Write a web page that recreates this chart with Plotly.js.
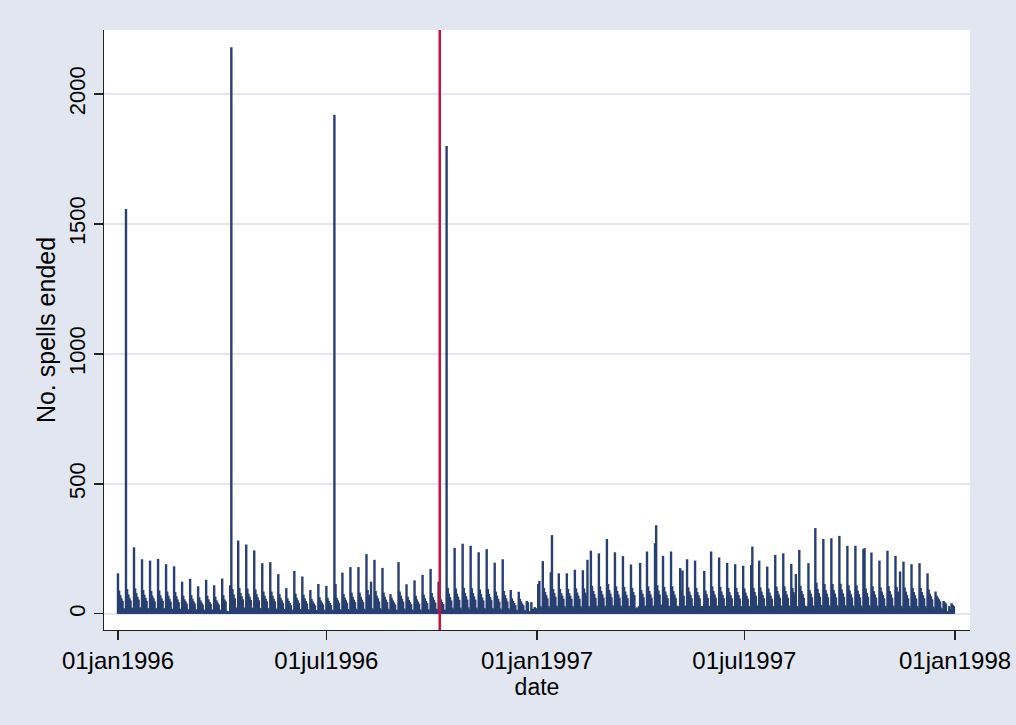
<!DOCTYPE html>
<html>
<head>
<meta charset="utf-8">
<script src="https://cdn.plot.ly/plotly-3.0.1.min.js"></script>
<style>html,body{margin:0;padding:0;background:#e1e6f0;}#chart{width:1016px;height:725px;}</style>
</head>
<body>
<div id="chart"></div>
<script>
// Daily number of spells ended, 1996 (one week Mon..Sun per line, starting Mon 01jan1996)
const spells1996 = [
156,90,72,60,50,22,15,
1557,95,75,62,52,24,18,
256,98,80,66,55,25,18,
210,92,74,62,50,22,16,
205,88,70,60,48,22,16,
211,90,72,60,50,22,15,
191,86,70,58,47,20,15,
183,84,68,56,45,20,14,
124,70,56,48,40,18,13,
135,72,58,48,40,18,13,
106,64,52,44,36,16,12,
131,70,56,46,38,17,12,
110,66,52,44,36,16,12,
136,72,56,48,12,10,8,
110,2180,95,75,60,25,18,
282,100,80,68,56,25,18,
267,98,78,66,54,24,17,
244,94,76,64,52,23,16,
195,86,70,58,48,22,15,
199,86,70,58,48,21,15,
153,76,62,52,42,19,14,
99,60,50,42,34,16,12,
165,78,62,52,42,19,13,
144,74,60,50,40,18,13,
92,58,48,40,33,15,11,
115,64,52,44,36,16,12,
108,62,50,42,34,16,12,
1920,115,62,52,42,18,13,
159,76,62,52,42,19,13,
180,82,66,55,45,20,14,
180,82,66,55,45,20,14,
230,92,74,62,124,22,16,
208,88,70,60,48,22,15,
177,82,66,55,45,20,14,
76,62,52,44,36,16,12,
199,86,70,58,47,21,15,
114,66,54,45,37,17,12,
129,70,56,47,38,17,12,
150,74,60,50,41,18,13,
173,80,64,54,44,20,14,
124,68,56,46,38,17,12,
1800,100,78,64,52,24,17,
254,98,78,66,54,24,17,
270,100,80,68,55,25,18,
262,99,80,67,55,24,17,
237,94,76,63,52,23,16,
249,96,77,65,53,23,16,
197,86,70,58,47,21,15,
210,88,72,60,48,22,15,
92,60,50,42,34,16,12,
85,58,48,40,33,15,11,
50,45,8,10,45,20,18,
26,22
];
// Daily number of spells ended, 1997 (Wed 01jan - Sun 05jan, then weeks Mon..Sun)
const spells1997 = [
12,115,127,30,22,
203,100,84,72,60,30,22,
160,303,96,80,66,32,24,
156,96,80,70,58,30,22,
156,96,80,70,58,30,22,
170,98,82,70,58,30,22,
168,98,82,70,208,30,22,
243,108,88,76,62,32,24,
233,106,88,75,62,32,24,
288,115,92,78,64,33,25,
237,106,88,75,62,32,24,
222,104,86,73,60,31,23,
190,100,84,72,20,25,20,
30,196,92,78,64,32,24,
240,106,88,75,62,32,24,
272,341,110,90,74,36,27,
223,104,86,73,60,31,23,
240,106,88,75,62,32,24,
30,176,90,167,70,32,24,
210,102,86,73,60,31,23,
205,100,84,72,60,30,22,
30,165,90,76,62,31,23,
240,106,88,75,62,32,24,
217,104,86,73,60,31,23,
196,100,84,72,60,30,22,
191,100,84,72,59,30,22,
185,98,82,70,58,30,22,
188,259,100,84,70,33,25,
205,102,86,73,60,31,23,
182,98,82,70,58,30,22,
227,105,88,75,62,32,24,
233,106,88,75,62,32,24,
192,100,84,72,153,30,22,
246,108,88,76,62,32,24,
30,195,92,78,64,32,24,
330,120,96,80,66,34,25,
288,115,92,78,64,33,25,
291,115,92,78,64,33,25,
300,116,94,79,65,33,25,
262,110,90,76,63,32,24,
262,110,90,76,63,32,24,
249,253,98,80,66,33,25,
236,106,88,75,62,32,24,
205,102,86,73,60,31,23,
243,107,88,75,62,32,24,
223,104,86,73,163,31,23,
201,102,86,73,60,31,23,
191,100,84,72,59,30,22,
195,100,84,72,60,30,22,
156,94,78,68,56,28,21,
86,70,62,56,48,24,18,
50,45,40,8,10,30,18,
41,35,30
];
const firstDate = '1996-01-01';
const tickDates = ['1996-01-01','1996-07-01','1997-01-01','1997-07-01','1998-01-01'];
const tickLabels = ['01jan1996','01jul1996','01jan1997','01jul1997','01jan1998'];
const yTicks = [0,500,1000,1500,2000];
const markerDate = '1996-10-08';

const values = spells1996.concat(spells1997);
const start = Date.parse(firstDate + 'T00:00:00Z');
const dates = values.map((v,i) => new Date(start + i*86400000).toISOString().slice(0,10));

// spike plot: one vertical segment from 0 to the value for every day
const sx = [], sy = [];
dates.forEach((d,i) => { sx.push(d, d, null); sy.push(0, values[i], null); });

const FONT = 'Liberation Sans, Arial, sans-serif';

const trace = {
  type:'scatter', mode:'lines', x:sx, y:sy, connectgaps:false,
  line:{color:'#283f70', width:2.4},
  hoverinfo:'skip'
};

const layout = {
  width:1016, height:725,
  paper_bgcolor:'#e1e6f0', plot_bgcolor:'#ffffff',
  margin:{l:104, r:46, t:30, b:95},
  showlegend:false,
  xaxis:{
    type:'date', range:['1995-12-19 19:00','1998-01-14 02:00'],
    tickmode:'array', tickvals:tickDates, ticktext:tickLabels,
    ticks:'outside', ticklen:9, tickwidth:1.2, tickcolor:'#222',
    showline:true, linecolor:'#222', linewidth:1.2,
    showgrid:false, zeroline:false, automargin:false,
    tickfont:{family:FONT, size:24, color:'#000'},
    title:{text:'date', font:{family:FONT, size:23, color:'#000'}, standoff:0}
  },
  yaxis:{
    range:[-62,2246], tickmode:'array', tickvals:yTicks,
    ticks:'outside', ticklen:9, tickwidth:1.2, tickcolor:'#222', tickangle:-90,
    showline:true, linecolor:'#222', linewidth:1.2,
    showgrid:true, gridcolor:'#e1e6f0', gridwidth:2, zeroline:false, automargin:false,
    tickfont:{family:FONT, size:22, color:'#000'},
    title:{text:'No. spells ended', font:{family:FONT, size:25, color:'#000'}, standoff:2}
  },
  shapes:[{type:'line', xref:'x', yref:'paper', x0:markerDate, x1:markerDate, y0:0, y1:1,
           line:{color:'#cc1040', width:2.5}}]
};

Plotly.newPlot('chart', [trace], layout, {displayModeBar:false, staticPlot:true});
</script>
</body>
</html>
